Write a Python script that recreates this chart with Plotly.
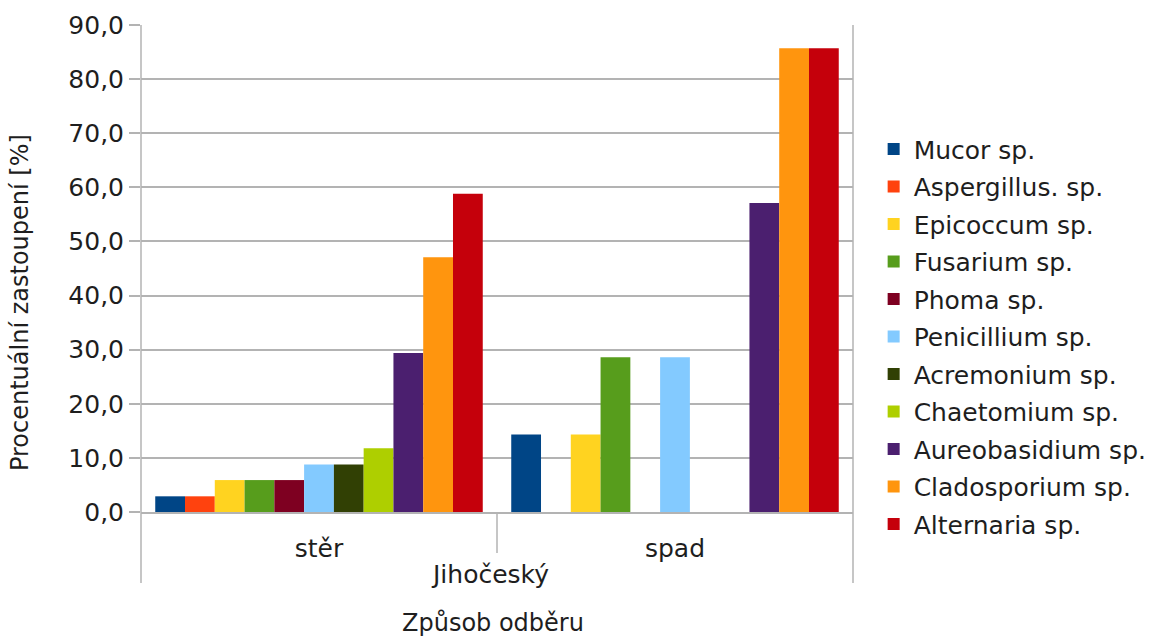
import plotly.graph_objects as go

# Sampling methods (inner category level) and region (outer level)
categories = ["stěr", "spad"]
region = "Jihočeský"

species = [
    "Mucor sp.", "Aspergillus. sp.", "Epicoccum sp.", "Fusarium sp.", "Phoma sp.",
    "Penicillium sp.", "Acremonium sp.", "Chaetomium sp.", "Aureobasidium sp.",
    "Cladosporium sp.", "Alternaria sp.",
]

# Percentage occurrence per species: [stěr, spad]
mucor = [2.9, 14.3]
aspergillus = [2.9, 0.0]
epicoccum = [5.9, 14.3]
fusarium = [5.9, 28.6]
phoma = [5.9, 0.0]
penicillium = [8.8, 28.6]
acremonium = [8.8, 0.0]
chaetomium = [11.8, 0.0]
aureobasidium = [29.4, 57.1]
cladosporium = [47.1, 85.7]
alternaria = [58.8, 85.7]

series_values = [mucor, aspergillus, epicoccum, fusarium, phoma, penicillium,
                 acremonium, chaetomium, aureobasidium, cladosporium, alternaria]

colors = ["#004586", "#ff420e", "#ffd320", "#579d1c", "#7e0021", "#83caff",
          "#314004", "#aecf00", "#4b1f6f", "#ff950e", "#c5000b"]

FONT = "DejaVu Sans"
TXT = "#1e1e1e"
GRID = "#b3b3b3"
FS = 25

fig = go.Figure()
for name, vals, col in zip(species, series_values, colors):
    fig.add_trace(go.Bar(
        name=name, x=categories, y=vals, marker_color=col,
        marker_line_width=0, legendgroup=name,
    ))

# Frame lines that extend below the plot into the category label area
frame = [
    (0, -0.146, 0, 1),      # left axis line
    (1, -0.146, 1, 1),      # right border
    (0.5, -0.084, 0.5, 0),  # divider between categories
]
for x0, y0, x1, y1 in frame:
    fig.add_shape(type="line", xref="x domain", yref="y domain",
                  x0=x0, y0=y0, x1=x1, y1=y1,
                  line=dict(color=GRID, width=1.5), layer="above")

fig.add_annotation(text=region, xref="x domain", yref="y domain", x=0.49, y=-0.129,
                   showarrow=False, font=dict(family=FONT, size=FS, color=TXT),
                   yanchor="middle")
fig.add_annotation(text="Způsob odběru", xref="x domain", yref="y domain", x=0.495, y=-0.228,
                   showarrow=False, font=dict(family=FONT, size=24, color=TXT),
                   yanchor="middle")
fig.add_annotation(text="Procentuální zastoupení [%]", xref="paper", yref="y domain",
                   x=-0.17, xanchor="center", y=0.431, yanchor="middle",
                   textangle=-90, showarrow=False,
                   font=dict(family=FONT, size=24, color=TXT))

fig.update_layout(
    width=1154, height=640,
    margin=dict(l=141, r=301, t=25, b=128, autoexpand=False),
    paper_bgcolor="white", plot_bgcolor="white",
    barmode="group", bargap=0.08, bargroupgap=0,
    separators=", ",
    font=dict(family=FONT, size=FS, color=TXT),
    showlegend=True,
    legend=dict(
        x=1.029, xanchor="left", y=0.36, yanchor="middle",
        traceorder="grouped", tracegroupgap=2,
        font=dict(family=FONT, size=FS, color=TXT),
        itemwidth=30, bgcolor="rgba(0,0,0,0)",
    ),
)
fig.update_xaxes(
    showgrid=False, showline=True, linecolor=GRID, linewidth=1.5,
    ticks="outside", ticklen=13, tickcolor="rgba(0,0,0,0)",
    tickfont=dict(family=FONT, size=FS, color=TXT),
)
fig.update_yaxes(
    range=[0, 90], dtick=10, tick0=0, tickformat=".1f",
    showgrid=True, gridcolor=GRID, gridwidth=1.5,
    showline=False, zeroline=False,
    ticks="outside", ticklen=11, tickcolor=GRID, tickwidth=1.5,
    tickfont=dict(family=FONT, size=FS, color=TXT),
)

fig.write_html("out.html")
